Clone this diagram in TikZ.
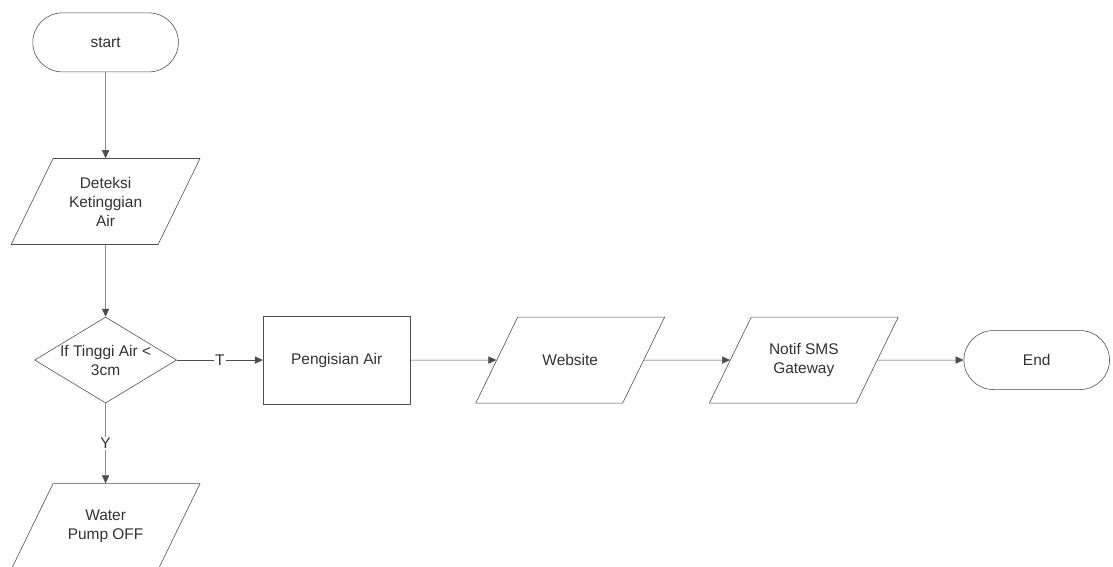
\documentclass[tikz,border=0pt]{standalone}
\usepackage{fontspec}
\setmainfont{Liberation Sans}
\usetikzlibrary{shapes.geometric, shapes.misc, arrows.meta, positioning}

\begin{document}
\begin{tikzpicture}[
        node distance=2.15cm and 2.15cm,
        every node/.style={font=\fontsize{11}{13.5}\selectfont, text=black!80},
        every label/.style={align=center},
        terminal/.style={
            rounded rectangle,
            draw=black!70,
            fill=white,
            minimum width=3.875cm,
            minimum height=1.475cm
        },
        io/.style={
            trapezium,
            trapezium left angle=64,
            trapezium right angle=116,
            draw=black!70,
            fill=white,
            inner sep=0pt,
            text width=2.625cm,
            text height=2.15cm,
            text depth=0pt
        },
        decision/.style={
            diamond,
            draw=black!70,
            fill=white,
            inner sep=0pt,
            minimum width=3.55cm,
            minimum height=2.15cm
        },
        process/.style={
            rectangle,
            draw=black!70,
            fill=white,
            minimum width=3.675cm,
            minimum height=2.2cm,
            align=center
        },
        arrow/.style={-{Triangle[length=2mm,width=1.8mm]}, draw=black!70},
        tag/.style={fill=white, inner sep=1pt}
    ]

    \clip (0,0) rectangle (27.825,-14.175);

    \node (start) [terminal] at (2.64,-1.06) {start};
    \node (deteksi) [io, below=2.15cm of start,
        label=center:Deteksi\\Ketinggian\\Air] {};
    \node (cek) [decision, below=1.8cm of deteksi,
        label=center:If Tinggi Air <\\3cm] {};
    \node (pompa) [io, below=2cm of cek,
        label=center:Water\\Pump OFF] {};
    \node (isi) [process, right=of cek] {Pengisian Air};
    \node (web) [io, right=of isi, label=center:Website] {};
    \node (sms) [io, right=of web, label=center:Notif SMS\\Gateway] {};
    \node (stop) [terminal, right=of sms] {End};

    \draw [arrow] (start) -- (deteksi);
    \draw [arrow] (deteksi) -- (cek);
    \draw [arrow] (cek) -- node [tag] {T} (isi);
    \draw [arrow] (cek) -- node [tag] {Y} (pompa);
    \draw [arrow] (isi) -- (web);
    \draw [arrow] (web) -- (sms);
    \draw [arrow] (sms) -- (stop);

    \end{tikzpicture}
\end{document}
